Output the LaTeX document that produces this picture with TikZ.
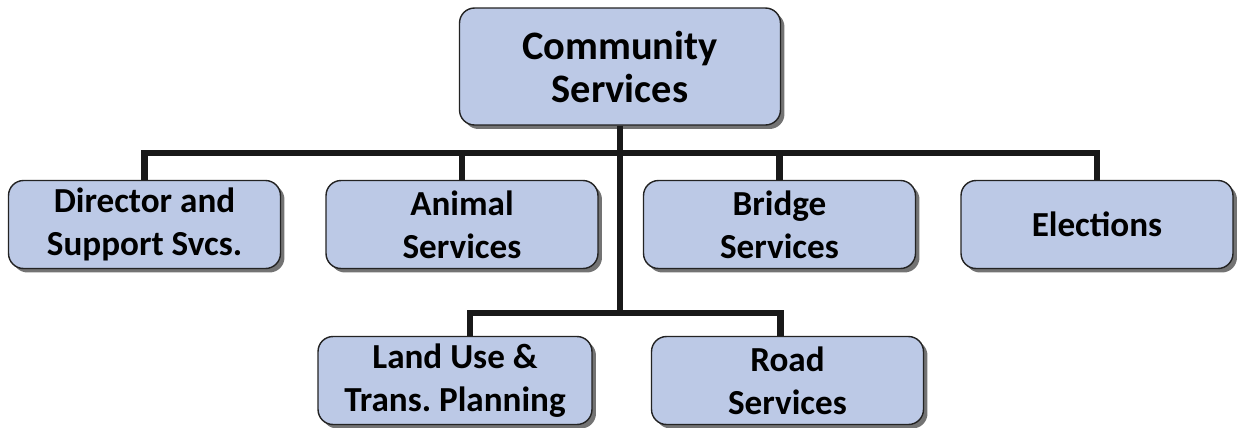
\documentclass[tikz,border=0pt]{standalone}
\usepackage{fontspec}
\setmainfont{Carlito}
\usetikzlibrary{shadows,calc}
\definecolor{boxfill}{RGB}{188,201,230}
\definecolor{boxline}{RGB}{35,35,35}
\frenchspacing
\begin{document}
\begin{tikzpicture}[
                x = 0.02cm, y = -0.02cm,
                unit/.style = {draw = boxline, thick, fill = boxfill, rounded corners = 0.3cm,
                    align = center, inner sep = 1mm,
                    font = \fontsize{20}{24.5}\selectfont\bfseries,
                    minimum width = 5.44cm, minimum height = 1.76cm,
                    drop shadow = {shadow xshift = 0.8mm, shadow yshift = -0.8mm,
                        fill = black!55, opacity = 1}},
                head/.style = {unit, minimum width = 6.42cm, minimum height = 2.34cm,
                    font = \fontsize{23}{24.5}\selectfont\bfseries},
                link/.style = {draw = black!90, line width = 1.3mm},
            ]
            \useasboundingbox (0,0) rectangle (1238,427);

            \node (cs) [head] at (620,66.5){Community\\Services};

            \node (dir) [unit] at (144.5,224.5){Director and\\Support Svcs.};
            \node (ani) [unit] at (462,224.5){Animal\\Services};
            \node (bri) [unit] at (779.5,224.5){Bridge\\Services};
            \node (ele) [unit] at (1097,224.5){Elections};

            \node (lu) [unit, minimum width = 5.48cm] at (455,380.5){Land Use \&\\Trans. Planning};
            \node (rs) [unit] at (787.5,380.5){Road\\Services};

            \coordinate (j1) at (620,153);
            \coordinate (j2) at (620,313);

            % upper row
            \path[link] (dir.north) |- (j1) -| (ele.north);
            \path[link] (ani.north) -- (ani.north |- j1);
            \path[link] (bri.north) -- (bri.north |- j1);
            \path[link] (cs.south) -- (j2);

            % lower row
            \path[link] ($(lu.north)+(15,0)$) |- (j2) -| ($(rs.north)+(-7,0)$);
        \end{tikzpicture}
\end{document}
